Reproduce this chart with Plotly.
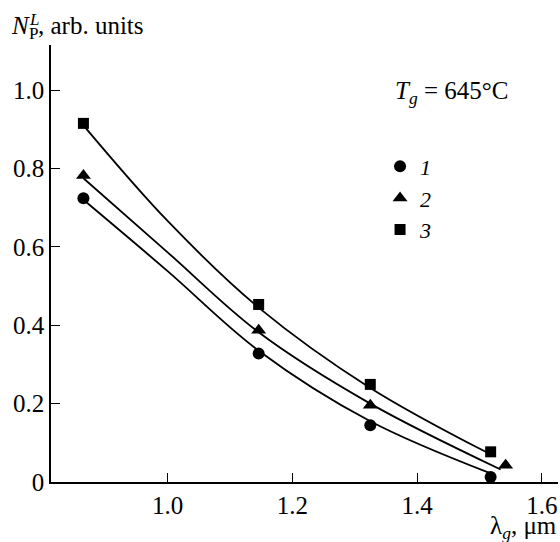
import plotly.graph_objects as go

# ---- data ----
lam1 = [0.865, 1.146, 1.325, 1.518]
n1 = [0.724, 0.328, 0.145, 0.013]
lam2 = [0.865, 1.146, 1.325, 1.542]
n2 = [0.782, 0.387, 0.196, 0.043]
lam3 = [0.865, 1.146, 1.325, 1.518]
n3 = [0.915, 0.453, 0.249, 0.077]

# fitted curves
fit1_x = [0.865, 1.0, 1.146, 1.325, 1.518]
fit1_y = [0.72, 0.538, 0.335, 0.155, 0.022]
fit2_x = [0.865, 1.0, 1.146, 1.325, 1.534]
fit2_y = [0.775, 0.586, 0.382, 0.2, 0.032]
fit3_x = [0.865, 1.0, 1.146, 1.325, 1.51]
fit3_y = [0.91, 0.666, 0.445, 0.24, 0.077]

x_ticks = [1.0, 1.2, 1.4, 1.6]
x_ticktext = ["1.0", "1.2", "1.4", "1.6"]
y_ticks = [0, 0.2, 0.4, 0.6, 0.8, 1.0]
y_ticktext = ["0", "0.2", "0.4", "0.6", "0.8", "1.0"]

series_names = ["<i>1</i>", "<i>2</i>", "<i>3</i>"]
symbols = ["circle", "triangle-up", "square"]
sizes = [12, 13, 11]

FONT = "Liberation Serif"

fig = go.Figure()

for fx, fy in [(fit1_x, fit1_y), (fit2_x, fit2_y), (fit3_x, fit3_y)]:
    fig.add_trace(go.Scatter(x=fx, y=fy, mode="lines",
                             line=dict(color="black", width=1.8, shape="spline", smoothing=1.0),
                             showlegend=False, hoverinfo="skip", cliponaxis=False))

for (px, py), name, sym, sz in zip([(lam1, n1), (lam2, n2), (lam3, n3)], series_names, symbols, sizes):
    fig.add_trace(go.Scatter(x=px, y=py, mode="markers", name=name,
                             marker=dict(symbol=sym, size=sz, color="black", line=dict(width=0)),
                             cliponaxis=False))

fig.update_layout(
    width=560, height=542,
    margin=dict(l=51, r=2, t=45, b=60),
    paper_bgcolor="white", plot_bgcolor="white",
    font=dict(family=FONT, size=25, color="black"),
    showlegend=True,
    legend=dict(x=0.649, y=0.77, xanchor="left", yanchor="top",
                bgcolor="rgba(0,0,0,0)", font=dict(family=FONT, size=22),
                tracegroupgap=0, itemwidth=30),
    xaxis=dict(range=[0.813, 1.626], showline=True, linecolor="black", linewidth=1.5,
               ticks="inside", ticklen=9, tickwidth=1.2, tickcolor="black",
               tickvals=x_ticks, ticktext=x_ticktext, showgrid=False, zeroline=False,
               tickfont=dict(family=FONT, size=25, color="black")),
    yaxis=dict(range=[0, 1.115], showline=True, linecolor="black", linewidth=1.5,
               ticks="inside", ticklen=9, tickwidth=1.2, tickcolor="black",
               tickvals=y_ticks, ticktext=y_ticktext, showgrid=False, zeroline=False,
               tickfont=dict(family=FONT, size=25, color="black")),
)

def px2x(p):
    return (p - 51) / 507.0

def px2y(p):
    return (481.7 - p) / 436.7

ann = [
    dict(text="<i>N</i>", x=px2x(9), y=px2y(26), size=25),
    dict(text="<i>L</i>", x=px2x(27), y=px2y(20), size=17),
    dict(text="P", x=px2x(27), y=px2y(34), size=17),
    dict(text=", arb. units", x=px2x(36), y=px2y(26), size=25),
    dict(text="<i>T</i><sub><i>g</i></sub> = 645°C", x=px2x(393), y=px2y(92), size=25),
]
for a in ann:
    fig.add_annotation(text=a["text"], xref="paper", yref="paper", x=a["x"], y=a["y"],
                       xanchor="left", yanchor="middle", showarrow=False,
                       font=dict(family=FONT, size=a["size"], color="black"))

fig.add_annotation(text="λ<sub><i>g</i></sub>, μm", xref="paper", yref="paper",
                   x=px2x(559), y=px2y(527), xanchor="right", yanchor="middle",
                   showarrow=False, font=dict(family=FONT, size=25, color="black"))

fig.write_html("out.html")
